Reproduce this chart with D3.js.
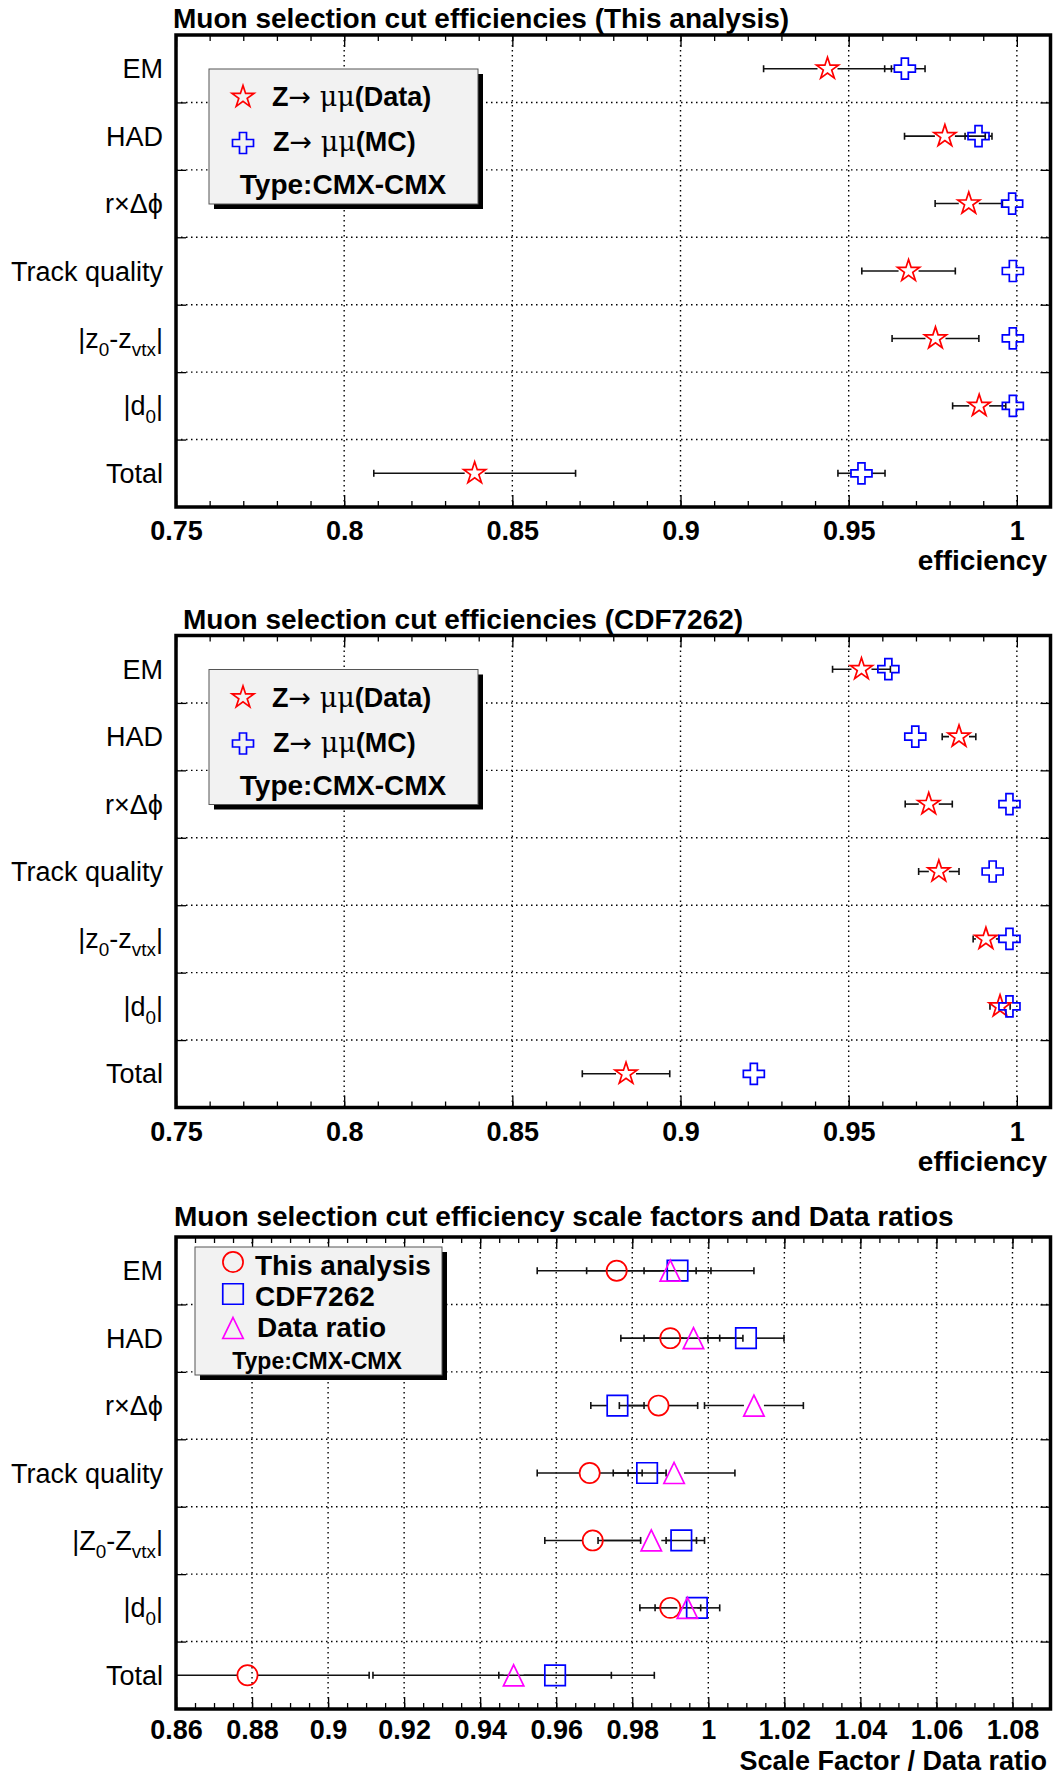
<!DOCTYPE html>
<html>
<head>
<meta charset="utf-8">
<script src="https://cdn.jsdelivr.net/npm/d3@7"></script>
<style>
  body { margin: 0; background: white; }
  svg { display: block; }
  text { font-family: "Liberation Sans", Arial, Helvetica, sans-serif; fill: black; }
</style>
</head>
<body>
<main></main>
<script>
/* ---- data ---- */

const categories = ["EM", "HAD", "r×Δϕ", "Track quality", "|z_{0}-z_{vtx}|", "|d_{0}|", "Total"]
const categoriesSF = ["EM", "HAD", "r×Δϕ", "Track quality", "|Z_{0}-Z_{vtx}|", "|d_{0}|", "Total"]

const xTicksEff = [0.75, 0.8, 0.85, 0.9, 0.95, 1]
const xTicksSF = [0.86, 0.88, 0.9, 0.92, 0.94, 0.96, 0.98, 1, 1.02, 1.04, 1.06, 1.08]

// This analysis
const thisData    = [0.9437, 0.9786, 0.9857, 0.9678, 0.9758, 0.9888, 0.8388]
const thisDataErr = [0.0190, 0.0120, 0.0100, 0.0139, 0.0129, 0.0079, 0.0300]
const thisMC      = [0.9667, 0.9886, 0.9986, 0.9988, 0.9988, 0.9988, 0.9538]
const thisMCErr   = [0.0060, 0.0040, 0.0010, 0.0005, 0.0005, 0.0020, 0.0070]

// CDF7262
const cdfData    = [0.9538, 0.9828, 0.9738, 0.9768, 0.9908, 0.9950, 0.8838]
const cdfDataErr = [0.0086, 0.0050, 0.0070, 0.0060, 0.0038, 0.0030, 0.0130]
const cdfMC      = [0.9618, 0.9698, 0.9978, 0.9928, 0.9978, 0.9978, 0.9218]
const cdfMCErr   = [0.0010, 0.0010, 0.0010, 0.0010, 0.0010, 0.0010, 0.0010]

// scale factors and data ratio
const sfThis       = [0.9759, 0.9900, 0.9869, 0.9688, 0.9696, 0.9900, 0.8788]
const sfThisErr    = [0.0209, 0.0130, 0.0103, 0.0138, 0.0126, 0.0080, 0.0320]
const sfCDF        = [0.9919, 1.0099, 0.9761, 0.9839, 0.9929, 0.9970, 0.9597]
const sfCDFErr     = [0.0088, 0.0100, 0.0070, 0.0050, 0.0040, 0.0010, 0.0148]
const dataRatio    = [0.9900, 0.9961, 1.0120, 0.9910, 0.9850, 0.9945, 0.9488]
const dataRatioErr = [0.0220, 0.0130, 0.0130, 0.0160, 0.0140, 0.0085, 0.0370]

/* ---- layout ---- */

const svgWidth = 1053
const svgHeight = 1775
const plotLeft = 176
const plotRight = 1050.5
const plotHeight = 472

const RED = "#ff0000", BLUE = "#0000ff", MAGENTA = "#ff00ff"

let svg = d3.select("main")
    .append("svg")
    .attr("width", svgWidth)
    .attr("height", svgHeight)
    .style("background-color", "white")

function markerPath(shape) {
    if (shape == "star") return d3.symbol(d3.symbolStar, 150)()
    if (shape == "cross") return d3.symbol(d3.symbolCross, 245)()
    if (shape == "circle") return d3.symbol(d3.symbolCircle, 320)()
    if (shape == "square") return d3.symbol(d3.symbolSquare, 420)()
    return "M0,-10.5L10.2,10.5L-10.2,10.5Z"
}

// tiny TLatex-like helper: "_{..}" becomes a subscript
function latex(sel, str) {
    let parts = str.split(/(_\{[^}]*\})/).filter(s => s.length)
    let down = 0
    parts.forEach(s => {
        if (s.startsWith("_{")) {
            sel.append("tspan").attr("dy", 8 - down).style("font-size", "70%").text(s.slice(2, -1))
            down = 8
        } else {
            let ts = sel.append("tspan").text(s)
            if (down) ts.attr("dy", -down)
            down = 0
        }
    })
}

function drawPanel(p) {
    let top = p.top, bottom = p.top + plotHeight

    let x = d3.scaleLinear().domain(p.domain).range([plotLeft, plotRight])
    let y = d3.scaleBand().domain(d3.range(p.cats.length)).range([top, bottom])
    let yEdge = d3.scaleLinear().domain([0, p.cats.length]).range([top, bottom])
    let edges = d3.range(1, p.cats.length)

    let clipId = "clip" + p.id
    svg.append("clipPath").attr("id", clipId)
        .append("rect")
        .attr("x", plotLeft).attr("y", top)
        .attr("width", plotRight - plotLeft).attr("height", plotHeight)

    /* title */
    svg.append("text")
        .attr("x", p.titleX).attr("y", top + p.titleDy)
        .style("font-size", "28px").style("font-weight", "bold")
        .text(p.title)

    /* grid */
    let grid = svg.append("g")
        .attr("stroke", "black").attr("stroke-width", 1.4)
        .attr("stroke-dasharray", "1.5,3.5")
    grid.selectAll("line.v")
        .data(p.ticks.filter(t => t > p.domain[0]))
        .enter().append("line")
        .attr("x1", d => x(d)).attr("x2", d => x(d))
        .attr("y1", top).attr("y2", bottom)
    grid.selectAll("line.h")
        .data(edges)
        .enter().append("line")
        .attr("x1", plotLeft).attr("x2", plotRight)
        .attr("y1", d => yEdge(d)).attr("y2", d => yEdge(d))

    /* x axes: majors, minors, top and bottom */
    let minors = x.ticks(p.minorCount)
    let bottomMajor = d3.axisBottom(x).tickValues(p.ticks).tickSize(-12).tickFormat(d3.format("~g"))
    let bottomMinor = d3.axisBottom(x).tickValues(minors).tickSize(-6).tickFormat("")
    let topMajor = d3.axisTop(x).tickValues(p.ticks).tickSize(-12).tickFormat("")
    let topMinor = d3.axisTop(x).tickValues(minors).tickSize(-6).tickFormat("")

    let xAxis = svg.append("g").attr("transform", `translate(0, ${bottom})`).call(bottomMajor)
    svg.append("g").attr("transform", `translate(0, ${bottom})`).call(bottomMinor)
    svg.append("g").attr("transform", `translate(0, ${top})`).call(topMajor)
    svg.append("g").attr("transform", `translate(0, ${top})`).call(topMinor)

    xAxis.selectAll("text")
        .attr("y", p.tickDy).attr("dy", null)
        .style("font-size", "27px").style("font-weight", "bold")
        .style("font-family", "'Liberation Sans', Arial, sans-serif")

    /* y axes: ticks at the category edges */
    let leftAxis = d3.axisLeft(yEdge).tickValues(edges).tickSize(-10).tickFormat("")
    let rightAxis = d3.axisRight(yEdge).tickValues(edges).tickSize(-10).tickFormat("")
    svg.append("g").attr("transform", `translate(${plotLeft}, 0)`).call(leftAxis)
    svg.append("g").attr("transform", `translate(${plotRight}, 0)`).call(rightAxis)

    svg.selectAll(".domain").remove()
    svg.selectAll(".tick line").attr("stroke", "black").attr("stroke-width", 1.3)

    /* category labels */
    p.cats.forEach((c, i) => {
        let t = svg.append("text")
            .attr("x", 163)
            .attr("y", y(i) + y.bandwidth() / 2 + 9.5)
            .attr("text-anchor", "end")
            .style("font-size", "27px")
        latex(t, c)
    })

    /* axis title */
    svg.append("text")
        .attr("x", 1047).attr("y", bottom + p.xTitleDy)
        .attr("text-anchor", "end")
        .style("font-size", p.xTitleSize).style("font-weight", "bold")
        .text(p.xTitle)

    /* error bars and markers */
    let marks = svg.append("g").attr("clip-path", `url(#${clipId})`)
    let gap = 10

    p.series.forEach(s => {
        let eb = marks.append("g").attr("stroke", "#111").attr("stroke-width", 1.6)
        s.v.forEach((v, i) => {
            let cx = x(v), cy = y(i) + y.bandwidth() / 2
            let xl = x(v - s.e[i]), xr = x(v + s.e[i])
            if (xr - cx > gap) {
                eb.append("line").attr("x1", cx + gap).attr("x2", xr).attr("y1", cy).attr("y2", cy)
                eb.append("line").attr("x1", xr).attr("x2", xr).attr("y1", cy - 3.5).attr("y2", cy + 3.5)
                eb.append("line").attr("x1", xl).attr("x2", cx - gap).attr("y1", cy).attr("y2", cy)
                eb.append("line").attr("x1", xl).attr("x2", xl).attr("y1", cy - 3.5).attr("y2", cy + 3.5)
            }
        })
    })

    p.series.forEach(s => {
        marks.append("g").selectAll("path")
            .data(s.v)
            .enter().append("path")
            .attr("d", markerPath(s.shape))
            .attr("transform", (d, i) => `translate(${x(d)}, ${y(i) + y.bandwidth() / 2})`)
            .attr("fill", "none")
            .attr("stroke", s.color)
            .attr("stroke-width", 1.7)
    })

    /* frame */
    svg.append("rect")
        .attr("x", plotLeft).attr("y", top)
        .attr("width", plotRight - plotLeft).attr("height", plotHeight)
        .attr("fill", "none").attr("stroke", "black").attr("stroke-width", 3.5)

    drawLegend(p.legend, top)
}

function drawLegend(L, top) {
    let g = svg.append("g").attr("transform", `translate(0, ${top})`)
    g.append("rect")
        .attr("x", L.x + 5).attr("y", L.y + 5)
        .attr("width", L.w).attr("height", L.h)
        .attr("fill", "black")
    g.append("rect")
        .attr("x", L.x).attr("y", L.y)
        .attr("width", L.w).attr("height", L.h)
        .attr("fill", "#f2f2f2").attr("stroke", "#555").attr("stroke-width", 1)

    L.items.forEach(it => {
        g.append("path")
            .attr("d", markerPath(it.shape))
            .attr("transform", `translate(${L.markerX}, ${it.y})`)
            .attr("fill", "none").attr("stroke", it.color).attr("stroke-width", 1.7)
        let t = g.append("text")
            .attr("x", it.tx).attr("y", it.y + it.base)
            .style("font-size", it.size).style("font-weight", "bold")
        it.parts.forEach(pt => {
            let ts = t.append("tspan").text(pt.t)
            if (pt.sym) ts.style("font-weight", "normal").style("font-family", pt.sym)
        })
    })

    g.append("text")
        .attr("x", L.typeX).attr("y", L.typeY)
        .attr("text-anchor", "middle")
        .style("font-size", L.typeSize).style("font-weight", "bold")
        .text("Type:CMX-CMX")
}

const ARROW_FONT = "'DejaVu Sans', sans-serif"
const MU_FONT = "'DejaVu Serif', 'Liberation Serif', serif"

const effLegend = {
    x: 209, y: 34, w: 269, h: 135, markerX: 243,
    typeX: 343, typeY: 159, typeSize: "28px",
    items: [
        { shape: "star", color: RED, y: 62, tx: 272, base: 9, size: "27px",
          parts: [{ t: "Z" }, { t: "→ ", sym: ARROW_FONT }, { t: "μμ", sym: MU_FONT }, { t: "(Data)" }] },
        { shape: "cross", color: BLUE, y: 108, tx: 273, base: 8, size: "27px",
          parts: [{ t: "Z" }, { t: "→ ", sym: ARROW_FONT }, { t: "μμ", sym: MU_FONT }, { t: "(MC)" }] }
    ]
}

const panels = [
    {
        id: 1, top: 35, titleX: 173, titleDy: -7,
        title: "Muon selection cut efficiencies (This analysis)",
        xTitle: "efficiency", xTitleDy: 63, xTitleSize: "28px", tickDy: 33,
        domain: [0.75, 1.01], ticks: xTicksEff, minorCount: 26, cats: categories,
        series: [
            { v: thisData, e: thisDataErr, shape: "star", color: RED },
            { v: thisMC, e: thisMCErr, shape: "cross", color: BLUE }
        ],
        legend: effLegend
    },
    {
        id: 2, top: 635.5, titleX: 183, titleDy: -7,
        title: "Muon selection cut efficiencies (CDF7262)",
        xTitle: "efficiency", xTitleDy: 63, xTitleSize: "28px", tickDy: 33,
        domain: [0.75, 1.01], ticks: xTicksEff, minorCount: 26, cats: categories,
        series: [
            { v: cdfData, e: cdfDataErr, shape: "star", color: RED },
            { v: cdfMC, e: cdfMCErr, shape: "cross", color: BLUE }
        ],
        legend: effLegend
    },
    {
        id: 3, top: 1237, titleX: 174, titleDy: -11,
        title: "Muon selection cut efficiency scale factors and Data ratios",
        xTitle: "Scale Factor / Data ratio", xTitleDy: 60.5, xTitleSize: "27px", tickDy: 30,
        domain: [0.86, 1.09], ticks: xTicksSF, minorCount: 46, cats: categoriesSF,
        series: [
            { v: sfThis, e: sfThisErr, shape: "circle", color: RED },
            { v: sfCDF, e: sfCDFErr, shape: "square", color: BLUE },
            { v: dataRatio, e: dataRatioErr, shape: "triangle", color: MAGENTA }
        ],
        legend: {
            x: 195, y: 10, w: 247, h: 128, markerX: 233,
            typeX: 317, typeY: 132, typeSize: "23px",
            items: [
                { shape: "circle", color: RED, y: 25, tx: 255, base: 13, size: "28px", parts: [{ t: "This analysis" }] },
                { shape: "square", color: BLUE, y: 57, tx: 255, base: 12, size: "28px", parts: [{ t: "CDF7262" }] },
                { shape: "triangle", color: MAGENTA, y: 91, tx: 257, base: 9, size: "28px", parts: [{ t: "Data ratio" }] }
            ]
        }
    }
]

panels.forEach(p => drawPanel(p))
</script>
</body>
</html>
